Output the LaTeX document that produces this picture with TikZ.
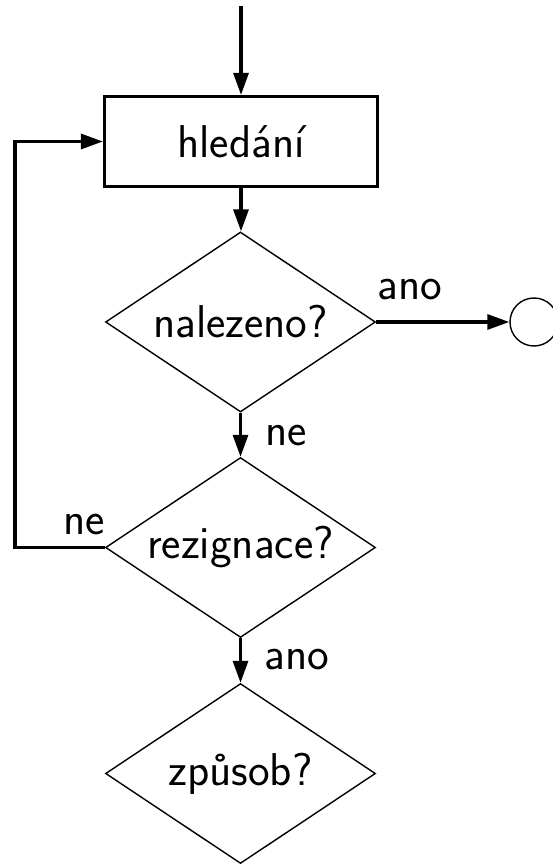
\documentclass[tikz,border=0pt]{standalone}
\usepackage{fontspec}
\usetikzlibrary{shapes.geometric,arrows.meta}
\begin{document}
\begin{tikzpicture}[x=0.5pt,y=-0.5pt,
  every node/.style={font=\sffamily\fontsize{23}{27}\selectfont},
  procbox/.style={draw,line width=1.6pt,rectangle,minimum width=136.5pt,minimum height=45pt,inner sep=0pt},
  decision/.style={draw,line width=0.7pt,diamond,aspect=1.5,minimum width=135pt,minimum height=90pt,inner sep=0pt},
  endcirc/.style={draw,line width=0.7pt,circle,minimum size=24pt,inner sep=0pt},
  flow/.style={line width=1.6pt,-{Triangle[length=11pt,width=7.5pt]}},
  lbl/.style={inner sep=0pt}]
\useasboundingbox (0,0) rectangle (552,865);
\coordinate (start) at (241,6);
\node[procbox] (search) at (241,141.5) {hled\'an\'i};
\node[decision] (found) at (240.5,322) {nalezeno?};
\node[decision] (resign) at (240.5,547.5) {rezignace?};
\node[decision] (how) at (240.5,773.5) {zp\r{u}sob?};
\node[endcirc] (end) at (534,322) {};
\coordinate (corner1) at (15,547.5);
\coordinate (corner2) at (15,141.5);
\draw[flow] (start) -- (search.north);
\draw[flow] (search.south) -- (search.south |- found.north);
\draw[flow] (found.east) -- (end.west);
\draw[flow] (found.south) -- (resign.north);
\draw[flow] (resign.south) -- (how.north);
\draw[flow] (resign.west) -- (corner1) -- (corner2) -- (search.west);
\node[lbl] (l1) at (410,290) {ano};
\node[lbl] (l2) at (286,436) {ne};
\node[lbl] (l3) at (84,525) {ne};
\node[lbl] (l4) at (297,660) {ano};
\end{tikzpicture}
\end{document}
